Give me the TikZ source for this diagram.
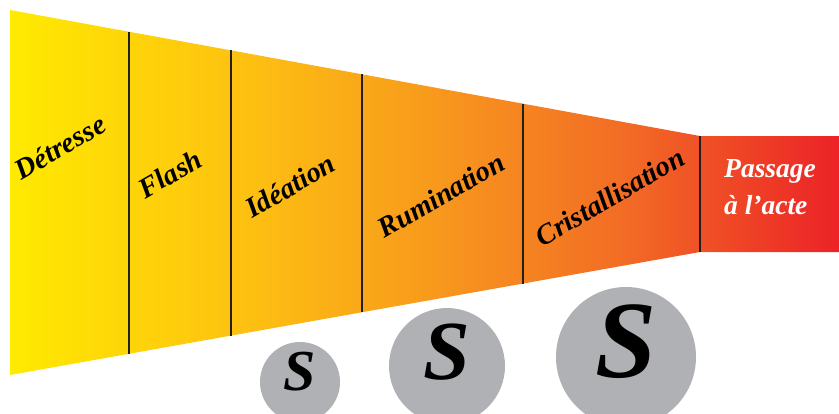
\documentclass[tikz,border=0pt]{standalone}
\usepackage{fontspec}
\setmainfont{Liberation Serif}
\usepackage{xcolor}
\usetikzlibrary{positioning,calc}
\definecolor{jaune}{HTML}{FFEA00}
\definecolor{jauneor}{HTML}{FDBE12}
\definecolor{orange1}{HTML}{F89B1C}
\definecolor{orange2}{HTML}{F26C25}
\definecolor{rouge}{HTML}{EC2227}
\definecolor{trait}{HTML}{231F20}
\definecolor{grisS}{HTML}{B0B1B5}
\pgfdeclarehorizontalshading{entonnoir}{100bp}{%
  color(0bp)=(jaune); color(25bp)=(jaune); color(40bp)=(jauneor);
  color(50bp)=(orange1); color(62bp)=(orange2); color(75bp)=(rouge);
  color(100bp)=(rouge)}

\begin{document}
\begin{tikzpicture}[
  x=1pt,y=-1pt,
  etape/.style={font=\fontsize{28.5}{32}\selectfont\bfseries\itshape,rotate=30,inner sep=0pt},
  final/.style={font=\fontsize{27.5}{37}\selectfont\bfseries\itshape,text=white,
                align=left,anchor=west,inner sep=0pt},
  pastille/.style={circle,fill=grisS,inner sep=0pt},
  lettre/.style={font=\bfseries\itshape,inner sep=0pt},
  sep/.style={draw=trait,line width=1.4pt},
]
\useasboundingbox (0,0) rectangle (839,413);
\clip (0,0) rectangle (839,413);

% funnel outline
\coordinate (h0) at (10,10);   \coordinate (b0) at (10,375);
\coordinate (h5) at (700,136); \coordinate (b5) at (700,252);
\coordinate (hr) at (839,136); \coordinate (br) at (839,252);
\shade[shading=entonnoir] (h0)--(h5)--(hr)--(br)--(b5)--(b0)--cycle;

% dividers
\foreach \xx [count=\i] in {129,231,362,523} {
  \coordinate (h\i) at ($(h0)!{(\xx-10)/690}!(h5)$);
  \coordinate (b\i) at ($(b0)!{(\xx-10)/690}!(b5)$);
  \draw[sep] (h\i)--(b\i);
}
\draw[sep] (h5)--(b5);

% stage names
\node[etape] (detresse) at (60,147)  {Détresse};
\node[etape] (flash)    at (170,174) {Flash};
\node[etape] (ideation) at (290,186) {Idéation};
\node[etape] (rumin)    at (441,195) {Rumination};
\node[etape] (crist)    at (610,197) {Cristallisation};
\node[final] (passage)  at (724,187) {Passage\\à l’acte};

% growing S
\node[pastille,minimum size=80pt]  (c1) at (300,382) {};
\node[pastille,minimum size=116pt] (c2) at (447,366) {};
\node[pastille,minimum size=140pt] (c3) at (626,357) {};
\node[lettre,font=\fontsize{58}{60}\selectfont\bfseries\itshape]
  (s1) at ([yshift=10pt]c1.center) {S};
\node[lettre,font=\fontsize{84}{86}\selectfont\bfseries\itshape]
  (s2) at ([yshift=14pt]c2.center) {S};
\node[lettre,font=\fontsize{110}{112}\selectfont\bfseries\itshape]
  (s3) at ([yshift=15pt]c3.center) {S};
\end{tikzpicture}
\end{document}
